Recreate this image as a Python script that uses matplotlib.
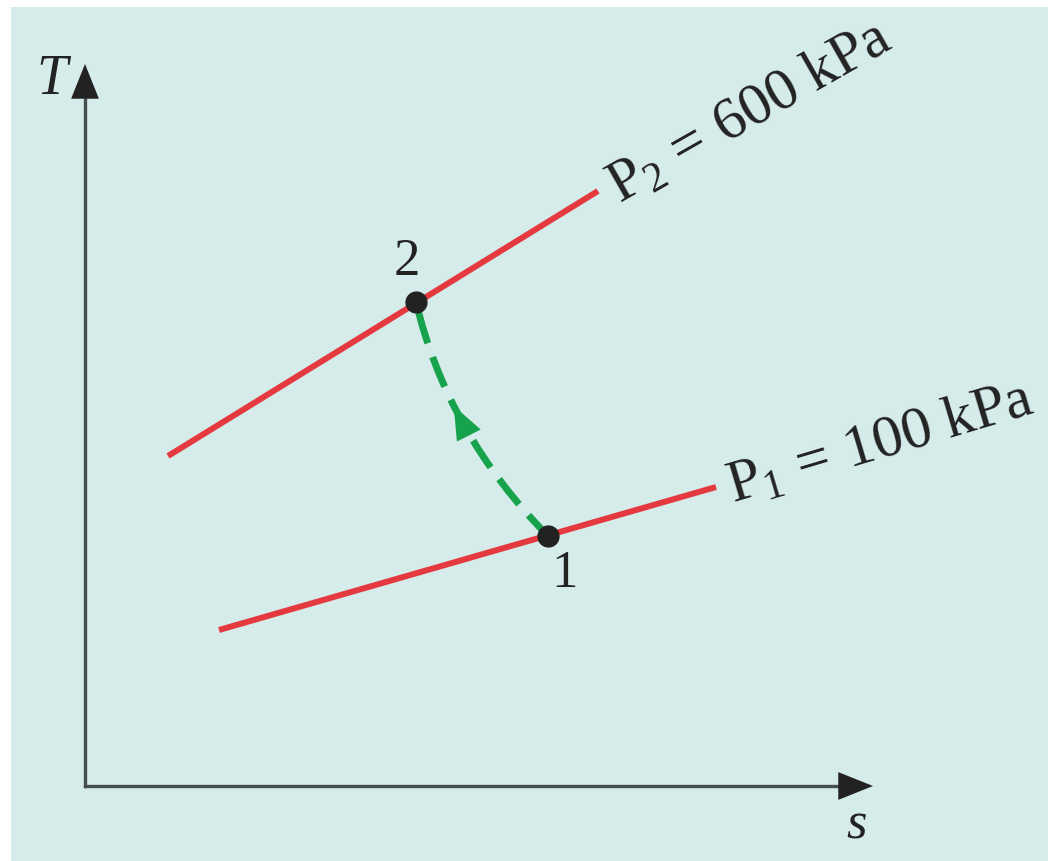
import numpy as np
import matplotlib.pyplot as plt
from matplotlib.path import Path
from matplotlib.patches import PathPatch, Rectangle, FancyArrowPatch

plt.rcParams['font.family'] = ['Liberation Serif', 'DejaVu Serif']
plt.rcParams['mathtext.fontset'] = 'custom'
plt.rcParams['mathtext.rm'] = 'Liberation Serif'
plt.rcParams['mathtext.it'] = 'Liberation Serif:italic'

# Constant-pressure lines on the T-s diagram (arbitrary units)
p1_s = [1.34, 6.31]
p1_T = [1.56, 2.99]
p2_s = [0.83, 5.13]
p2_T = [3.30, 5.95]

# States 1 and 2
state_s = [4.63, 3.31]
state_T = [2.50, 4.84]
state_labels = ['1', '2']
label_s = [4.80, 3.22]
label_T = [2.13, 5.25]

# Control point that bends the compression path 1 -> 2
bend_s, bend_T = 3.625, 3.52

# Axis extents
s_max, T_max = 7.88, 7.22

RED = '#e43a3f'
GREEN = '#17a34b'
AXIS = '#454d4d'
DARK = '#222222'
BG = '#d6ecea'

fig = plt.figure(figsize=(10.54, 8.62), dpi=100)
fig.patch.set_facecolor('white')
fig.patches.append(Rectangle((11 / 1054, 0), (1048 - 11) / 1054, (862 - 8) / 862,
                             transform=fig.transFigure, facecolor=BG,
                             edgecolor='none', zorder=-10))

ax = fig.add_axes([0, 0, 1, 1])
ax.set_xlim(-0.85, 9.69)
ax.set_ylim(-0.75, 7.87)
ax.axis('off')
ax.patch.set_alpha(0)

# Coordinate axes: grey shafts, dark arrow heads
ax.plot([0, 0], [0, T_max - 0.3], color=AXIS, lw=2.4, solid_capstyle='projecting', zorder=2)
ax.plot([0, s_max - 0.3], [0, 0], color=AXIS, lw=2.4, solid_capstyle='projecting', zorder=2)
head_kw = dict(arrowstyle='-|>,head_length=0.5,head_width=0.2', mutation_scale=50,
               lw=0, color=DARK, shrinkA=0, shrinkB=0, zorder=3)
ax.add_patch(FancyArrowPatch((0, T_max - 0.4), (0, T_max), **head_kw))
ax.add_patch(FancyArrowPatch((s_max - 0.4, 0), (s_max, 0), **head_kw))
ax.text(-0.33, 7.07, 'T', fontsize=40, style='italic', color=DARK,
        ha='center', va='center')
ax.text(7.72, -0.39, 's', fontsize=38, style='italic', color=DARK,
        ha='center', va='center')

# Isobars
ax.plot(p1_s, p1_T, color=RED, lw=4.3, solid_capstyle='butt', zorder=3)
ax.plot(p2_s, p2_T, color=RED, lw=4.3, solid_capstyle='butt', zorder=3)

ang1 = np.degrees(np.arctan2(p1_T[1] - p1_T[0], p1_s[1] - p1_s[0]))
ang2 = np.degrees(np.arctan2(p2_T[1] - p2_T[0], p2_s[1] - p2_s[0]))
ax.text(p1_s[1] + 0.17, p1_T[1] - 0.15, r'$\mathrm{P}_{1}\,=\,100\ \mathrm{kPa}$',
        fontsize=43, color=DARK, rotation=ang1 + 0.5, rotation_mode='anchor',
        ha='left', va='baseline')
ax.text(p2_s[1] + 0.22, p2_T[1] - 0.12, r'$\mathrm{P}_{2}\,=\,600\ \mathrm{kPa}$',
        fontsize=43, color=DARK, rotation=ang2 - 2.0, rotation_mode='anchor',
        ha='left', va='baseline')

# Process path 1 -> 2 (quadratic Bezier)
verts = [(state_s[0], state_T[0]), (bend_s, bend_T), (state_s[1], state_T[1])]
path = Path(verts, [Path.MOVETO, Path.CURVE3, Path.CURVE3])
ax.add_patch(PathPatch(path, facecolor='none', edgecolor=GREEN, lw=5,
                       linestyle=(0.5, (4.6, 2.1)), capstyle='butt', zorder=3))

# Direction arrow at the middle of the path
P0 = np.array(verts[0]); C = np.array(verts[1]); P2 = np.array(verts[2])
t = 0.58
pt = (1 - t) ** 2 * P0 + 2 * (1 - t) * t * C + t ** 2 * P2
tan = 2 * (1 - t) * (C - P0) + 2 * t * (P2 - C)
tan = tan / np.linalg.norm(tan)
ax.add_patch(FancyArrowPatch(pt - 0.05 * tan, pt + 0.02 * tan,
                             arrowstyle='-|>,head_length=0.6,head_width=0.24',
                             mutation_scale=40, color=GREEN, lw=0,
                             shrinkA=0, shrinkB=0, zorder=4))

# State points and their numbers
ax.plot(state_s, state_T, 'o', color=DARK, ms=15, zorder=5)
for s, T, lab in zip(label_s, label_T, state_labels):
    ax.text(s, T, lab, fontsize=38, color=DARK, ha='center', va='center')

fig.savefig('out.png', dpi=100, facecolor=fig.get_facecolor())
